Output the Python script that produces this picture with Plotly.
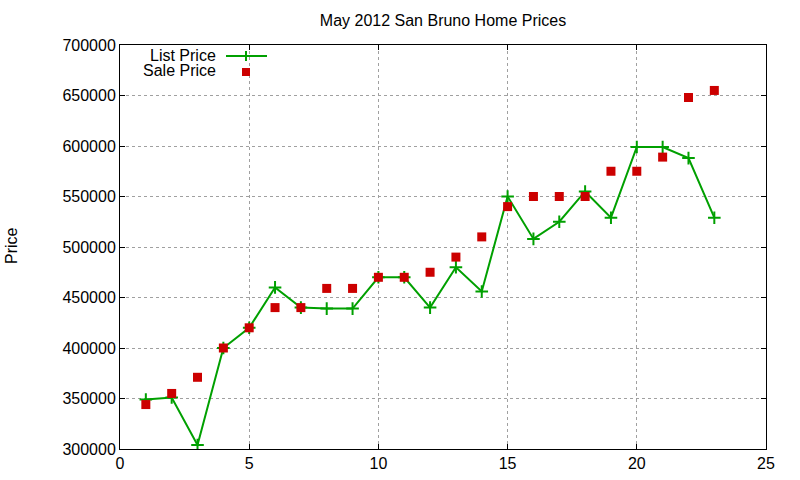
import plotly.graph_objects as go

# May 2012 San Bruno listings
sale_no = list(range(1, 24))
list_price = [349000, 351000, 304000, 400000, 420000, 460000, 440000, 439000,
              439000, 470000, 470000, 440000, 480000, 456000, 550000, 508000,
              525000, 555000, 529000, 599000, 599000, 588000, 529000]
sale_price = [344000, 355000, 371000, 400000, 420000, 440000, 440000, 459000,
              459000, 470000, 470000, 475000, 490000, 510000, 540000, 550000,
              550000, 550000, 575000, 575000, 589000, 648000, 655000]

green = "#00a000"
red = "#cc0000"
font = "Liberation Sans, Arial, sans-serif"

# plot box in pixels
L, R, T, B = 120, 766, 45, 449
W, H = R - L, B - T


def px(x):
    return (x - L) / W


def py(y):
    return (B - y) / H


fig = go.Figure()
fig.add_trace(go.Scatter(x=sale_no, y=list_price, mode="lines+markers", name="List Price",
                         line=dict(color=green, width=2),
                         marker=dict(symbol="cross-thin", size=9,
                                     line=dict(color=green, width=2))))
fig.add_trace(go.Scatter(x=sale_no, y=sale_price, mode="markers", name="Sale Price",
                         marker=dict(symbol="square", size=9, color=red)))

# gnuplot style key, text left of sample
for txt, ypx in [("List Price", 55), ("Sale Price", 71)]:
    fig.add_annotation(xref="paper", yref="paper", x=px(217), y=py(ypx),
                       text=txt, showarrow=False, xanchor="right", yanchor="middle",
                       borderpad=0, font=dict(size=16, color="black", family=font))
fig.add_shape(type="line", xref="paper", yref="paper",
              x0=px(226), x1=px(267), y0=py(56), y1=py(56),
              line=dict(color=green, width=2))
fig.add_shape(type="line", xref="paper", yref="paper",
              x0=px(246), x1=px(246), y0=py(51), y1=py(61),
              line=dict(color=green, width=2))
fig.add_shape(type="rect", xref="paper", yref="paper",
              x0=px(242), x1=px(250), y0=py(68), y1=py(76),
              line=dict(width=0), fillcolor=red)

fig.add_annotation(xref="paper", yref="paper", x=px(11), y=py(246), text="Price",
                   textangle=-90, showarrow=False, xanchor="center", yanchor="middle",
                   font=dict(size=16, color="black", family=font))

axis_style = dict(showline=True, linecolor="black", linewidth=1, mirror="ticks",
                  ticks="inside", ticklen=5, tickcolor="black", automargin=False,
                  showgrid=True, gridcolor="#a0a0a0", griddash="dot", gridwidth=1,
                  zeroline=False, tickfont=dict(size=16, color="black", family=font))

fig.update_xaxes(range=[0, 25], dtick=5, tick0=0, **axis_style)
fig.update_yaxes(range=[300000, 700000], dtick=50000, tickformat="d", **axis_style)

fig.update_layout(
    width=800, height=480,
    margin=dict(l=L, r=800 - R, t=T, b=480 - B),
    title=dict(text="May 2012 San Bruno Home Prices", xref="paper", x=0.5, xanchor="center",
               y=1 - 20 / 480, yanchor="middle",
               font=dict(size=16, color="black", family=font)),
    showlegend=False,
    plot_bgcolor="white", paper_bgcolor="white",
)

# drop the browser's default body margin so the figure sits at the page corner
fig.write_html("out.html", config={"displayModeBar": False},
               post_script="document.body.style.margin = '0px';")
